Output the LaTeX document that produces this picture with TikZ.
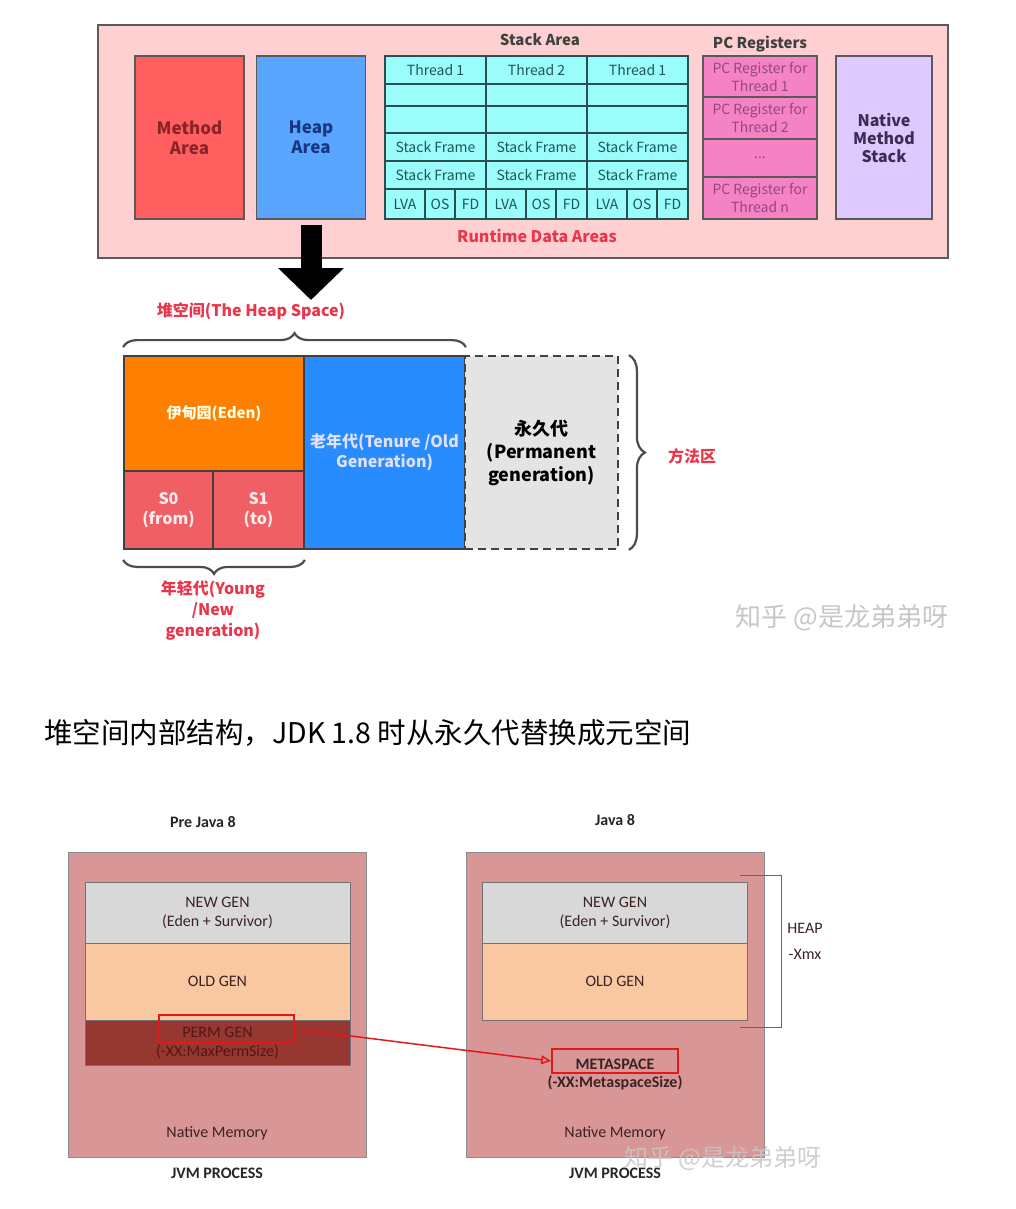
\documentclass[tikz,border=0pt]{standalone}
\usepackage{fontspec}
\setmainfont{Carlito}
\newfontfamily\cjk{Noto Sans CJK SC}
\usetikzlibrary{arrows.meta,decorations.pathreplacing}

\definecolor{rtpink}{RGB}{255,208,210}
\definecolor{rtline}{RGB}{90,90,90}
\definecolor{methodred}{RGB}{255,95,95}
\definecolor{methodtext}{RGB}{140,35,40}
\definecolor{heapblue}{RGB}{90,165,255}
\definecolor{heaptext}{RGB}{25,55,125}
\definecolor{stackcyan}{RGB}{155,252,252}
\definecolor{cellline}{RGB}{40,80,80}
\definecolor{celltext}{RGB}{30,85,85}
\definecolor{pcpink}{RGB}{245,130,195}
\definecolor{pctext}{RGB}{150,70,135}
\definecolor{nativepurple}{RGB}{222,202,255}
\definecolor{nativetext}{RGB}{60,45,85}
\definecolor{labelred}{RGB}{232,55,75}
\definecolor{edenorange}{RGB}{255,128,0}
\definecolor{survred}{RGB}{240,95,100}
\definecolor{oldblue}{RGB}{40,140,255}
\definecolor{permgray}{RGB}{228,228,228}
\definecolor{jvmbox}{RGB}{216,150,150}
\definecolor{newgen}{RGB}{216,216,216}
\definecolor{oldgen}{RGB}{250,200,160}
\definecolor{permgen}{RGB}{150,55,50}
\definecolor{permtext}{RGB}{85,22,22}
\definecolor{boxtext}{RGB}{60,35,35}
\definecolor{hired}{RGB}{225,25,25}

\begin{document}
\begin{tikzpicture}[x=1pt,y=-1pt,
	every node/.style={inner sep=0pt},
	area/.style={draw=rtline,line width=1.5pt,minimum width=109pt,minimum height=163pt,
		align=center,font=\cjk\bfseries\fontsize{17}{20}\selectfont},
	cell/.style={draw=cellline,line width=1.2pt,fill=stackcyan,minimum width=101pt,
		text=celltext,font=\cjk\fontsize{14}{16}\selectfont},
	pc/.style={draw=rtline,line width=1.2pt,fill=pcpink,minimum width=114pt,
		align=center,text=pctext,font=\cjk\fontsize{14}{18}\selectfont},
	part/.style={draw=black!75,line width=1.8pt,align=center,
		font=\cjk\bfseries\fontsize{16}{20}\selectfont},
	redlabel/.style={text=labelred,align=center,font=\cjk\bfseries\fontsize{16}{21}\selectfont},
	bracestyle/.style={draw=black!70,line width=2.2pt,decorate},
	jvm/.style={draw=black!45,line width=0.8pt,fill=jvmbox,minimum width=298pt,minimum height=305pt},
	gen/.style={draw=black!55,line width=0.8pt,minimum width=265pt,align=center,
		text=boxtext,font=\fontsize{16}{19}\selectfont},
	hilite/.style={draw=hired,line width=1.6pt},
	plain/.style={text=boxtext,font=\fontsize{16}{19}\selectfont},
	bold/.style={text=black!85,font=\bfseries\fontsize{16}{19}\selectfont},
	watermark/.style={font=\cjk\fontsize{26}{30}\selectfont}]
	\useasboundingbox (0,0) rectangle (1015,1209);
	\fill[white] (0,0) rectangle (1015,1209);

	% runtime data areas
	\node[draw=rtline,fill=rtpink,line width=1.5pt,minimum width=850pt,minimum height=233pt] (rda) at (523,141.5) {};
	\node[font=\cjk\bfseries\fontsize{15}{18}\selectfont,text=black!75] (stacklbl) at (540,40) {Stack Area};
	\node[font=\cjk\bfseries\fontsize{15}{18}\selectfont,text=black!75] (pclbl) at (760,44) {PC Registers};
	\node[redlabel] (rdalbl) at (537,236) {Runtime Data Areas};

	\node[area,fill=methodred,text=methodtext] (method) at (189.5,137.5) {Method\\Area};
	\node[area,fill=heapblue,text=heaptext] (heap) at (311,137.5) {Heap\\Area};
	\node[area,fill=nativepurple,text=nativetext,minimum width=96pt,
		font=\cjk\bfseries\fontsize{16}{18}\selectfont] (native) at (884,137.5) {Native\\Method\\Stack};

	% stack area
	\foreach \i/\x/\t in {1/385/Thread 1,2/486/Thread 2,3/587/Thread 1} {
		\node[cell,minimum height=28pt] (th\i) at (\x+50.5,70) {\t};
		\node[cell,minimum height=22pt] (ea\i) at (\x+50.5,95) {};
		\node[cell,minimum height=27pt] (eb\i) at (\x+50.5,119.5) {};
		\node[cell,minimum height=28pt] (sfa\i) at (\x+50.5,147) {Stack Frame};
		\node[cell,minimum height=28pt] (sfb\i) at (\x+50.5,175) {Stack Frame};
		\node[cell,minimum width=40pt,minimum height=30pt] (lva\i) at (\x+20,204) {LVA};
		\node[cell,minimum width=30pt,minimum height=30pt] (os\i) at (\x+55,204) {OS};
		\node[cell,minimum width=31pt,minimum height=30pt] (fd\i) at (\x+85.5,204) {FD};
	}

	% pc registers
	\node[pc,minimum height=41pt] (pc1) at (760,76.5) {PC Register for\\Thread 1};
	\node[pc,minimum height=42pt] (pc2) at (760,118) {PC Register for\\Thread 2};
	\node[pc,minimum height=38pt] (pcdots) at (760,158) {...};
	\node[pc,minimum height=42pt] (pcn) at (760,198) {PC Register for\\Thread n};

	% heap space
	\coordinate (arrowend) at (311,300);
	\draw[line width=21pt,-{Triangle[width=64pt,length=32pt]}] ([yshift=-5pt]heap.south) -- (arrowend);
	\node[redlabel] (heaplbl) at (251,311) {堆空间(The Heap Space)};

	\node[part,fill=edenorange,text=white!90!yellow,minimum width=180pt,minimum height=115pt,
		font=\cjk\bfseries\fontsize{15}{18}\selectfont] (eden) at (214,413.5) {伊甸园(Eden)};
	\node[part,fill=survred,text=white!92!red,minimum width=89pt,minimum height=78pt] (s0) at (168.5,510) {S0\\(from)};
	\node[part,fill=survred,text=white!92!red,minimum width=91pt,minimum height=78pt] (s1) at (258.5,510) {S1\\(to)};
	\node[part,fill=oldblue,text=white!88!blue,minimum width=161pt,minimum height=193pt] (old) at (384.5,452.5) {老年代(Tenure /Old\\Generation)};
	\node[part,fill=permgray,dashed,dash pattern=on 8pt off 5pt,minimum width=153pt,minimum height=193pt,
		font=\cjk\bfseries\fontsize{18}{23}\selectfont] (perm) at (541.5,452.5) {永久代\\(Permanent\\generation)};

	\draw[bracestyle,decoration={brace,amplitude=14pt}] ([yshift=8pt]eden.north west) -- ([yshift=8pt]old.north east);
	\draw[bracestyle,decoration={brace,amplitude=16pt}] ([xshift=10pt]perm.north east) -- ([xshift=10pt]perm.south east);
	\draw[bracestyle,decoration={brace,amplitude=14pt}] ([yshift=-10pt]s1.south east) -- ([yshift=-10pt]s0.south west);
	\node[redlabel] (methlbl) at (692,456) {方法区};
	\node[redlabel] (younglbl) at (213,611) {年轻代(Young\\/New\\generation)};

	\node[watermark,text=black!22] (wm1) at (842,618) {知乎 @是龙弟弟呀};

	% caption
	\node[anchor=west,font=\cjk\fontsize{28.5}{32}\selectfont] (caption) at (44,733) {堆空间内部结构，JDK 1.8 时从永久代替换成元空间};

	% pre java 8
	\node[bold] (prelbl) at (203,822) {Pre Java 8};
	\node[jvm] (jvmL) at (217,1004.5) {};
	\node[gen,fill=newgen,minimum height=61pt] (newL) at (217.5,912.5) {NEW GEN\\(Eden + Survivor)};
	\node[gen,fill=oldgen,minimum height=77pt] (oldL) at (217.5,981.5) {OLD GEN};
	\node[gen,fill=permgen,text=permtext,minimum height=45pt] (permL) at (217.5,1042.5) {PERM GEN\\(-XX:MaxPermSize)};
	\node[hilite,minimum width=135pt,minimum height=28pt] (permhl) at (226.5,1029) {};
	\node[plain] (nativeL) at (217,1133) {Native Memory};
	\node[bold] (procL) at (217,1173) {JVM PROCESS};

	% java 8
	\node[bold] (j8lbl) at (615,820) {Java 8};
	\node[jvm] (jvmR) at (615,1004.5) {};
	\node[gen,fill=newgen,minimum height=61pt] (newR) at (615,912.5) {NEW GEN\\(Eden + Survivor)};
	\node[gen,fill=oldgen,minimum height=77pt] (oldR) at (615,981.5) {OLD GEN};
	\node[hilite,minimum width=126pt,minimum height=24pt] (metahl) at (615,1061) {};
	\node[bold,text=boxtext] (metalbl) at (615,1064) {METASPACE};
	\node[bold,text=boxtext] (metasize) at (615,1083) {(-XX:MetaspaceSize)};
	\node[plain] (nativeR) at (615,1133) {Native Memory};
	\node[bold] (procR) at (615,1173) {JVM PROCESS};

	\coordinate (htop) at (740,875);
	\coordinate (hbot) at (740,1027);
	\draw[black!60,line width=1pt] (htop) -- ++(41,0) |- (hbot);
	\node[plain] (heapR) at (805,928) {HEAP};
	\node[plain] (xmx) at (805,954) {-Xmx};

	\draw[hired,line width=1.5pt,shorten <=6pt,-{Triangle[open,length=10pt,width=9pt]}] (permhl.east) -- (metahl.west);

	\node[watermark,text=white!78!black,opacity=0.85,font=\cjk\fontsize{24}{28}\selectfont] (wm2) at (723,1158) {知乎 @是龙弟弟呀};
\end{tikzpicture}
\end{document}
